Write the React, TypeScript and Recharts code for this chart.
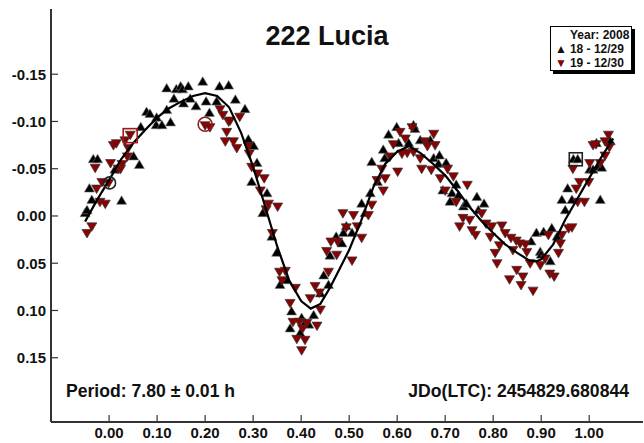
import React from 'react'
import { ScatterChart, Scatter, XAxis, YAxis } from 'recharts'

// phase / reduced magnitude
const xTicks = [0, 0.1, 0.2, 0.3, 0.4, 0.5, 0.6, 0.7, 0.8, 0.9, 1.0]
const xTickLabels = ['0.00', '0.10', '0.20', '0.30', '0.40', '0.50', '0.60', '0.70', '0.80', '0.90', '1.00']
const yTicks = [-0.15, -0.1, -0.05, 0, 0.05, 0.1, 0.15]
const yTickLabels = ['-0.15', '-0.10', '-0.05', '0.00', '0.05', '0.10', '0.15']

const night18: [number, number][] = [
  [-0.050, -0.003], [-0.046, -0.006], [-0.041, -0.029], [-0.036, -0.017], [-0.033, -0.060], [-0.024, -0.060],
  [0.012, -0.049], [0.026, -0.016], [0.051, -0.063], [0.063, -0.054], [0.066, -0.094], [0.078, -0.110],
  [0.085, -0.108], [0.099, -0.104], [0.098, -0.096], [0.110, -0.096], [0.120, -0.112], [0.128, -0.099],
  [0.120, -0.135], [0.135, -0.124], [0.140, -0.134], [0.149, -0.137], [0.153, -0.134], [0.155, -0.119],
  [0.165, -0.137], [0.169, -0.124], [0.181, -0.116], [0.195, -0.142], [0.202, -0.121], [0.209, -0.109],
  [0.224, -0.121], [0.230, -0.137], [0.249, -0.138], [0.263, -0.123], [0.283, -0.113], [0.290, -0.081],
  [0.301, -0.074], [0.308, -0.056], [0.297, -0.036], [0.329, -0.024], [0.320, -0.003], [0.339, 0.022],
  [0.349, 0.039], [0.356, 0.073], [0.370, 0.068], [0.377, 0.119], [0.380, 0.101], [0.398, 0.124],
  [0.401, 0.108], [0.408, 0.113], [0.416, 0.115], [0.426, 0.105], [0.440, 0.082], [0.447, 0.063],
  [0.457, 0.073], [0.460, 0.042], [0.473, 0.022], [0.485, 0.029], [0.488, 0.018], [0.494, 0.011],
  [0.506, 0.018], [0.526, -0.013], [0.533, -0.003], [0.544, -0.024], [0.547, -0.057], [0.559, -0.036],
  [0.571, -0.070], [0.574, -0.061], [0.582, -0.086], [0.599, -0.094], [0.603, -0.077], [0.624, -0.077],
  [0.634, -0.096], [0.637, -0.092], [0.648, -0.080], [0.669, -0.080], [0.676, -0.061], [0.686, -0.055],
  [0.688, -0.064], [0.702, -0.056], [0.695, -0.027], [0.710, -0.015], [0.714, -0.024], [0.723, -0.033],
  [0.728, -0.022], [0.738, -0.010], [0.744, -0.013], [0.766, -0.020], [0.769, -0.006], [0.781, -0.013],
  [0.879, 0.027], [0.890, 0.018], [0.898, 0.038], [0.900, 0.041], [0.905, 0.017], [0.919, 0.048],
  [0.922, 0.013], [0.933, 0.022], [0.943, -0.017], [0.950, -0.006], [0.955, -0.029], [0.964, -0.017],
  [0.967, -0.060], [0.976, -0.060], [1.001, -0.049], [1.008, -0.049], [1.015, -0.077], [1.019, -0.052],
  [1.023, -0.017], [1.026, -0.051], [1.044, -0.079],
]

const night19: [number, number][] = [
  [-0.046, 0.018], [-0.036, 0.011], [-0.029, -0.051], [-0.026, -0.029], [-0.019, -0.015], [-0.015, -0.036],
  [-0.008, -0.013], [-0.001, -0.035], [0.003, -0.056], [0.009, -0.075], [0.015, -0.077], [0.019, -0.050],
  [0.024, -0.050], [0.027, -0.055], [0.033, -0.080], [0.038, -0.063], [0.040, -0.072], [0.044, -0.086],
  [0.200, -0.096], [0.210, -0.094], [0.231, -0.113], [0.237, -0.107], [0.242, -0.079], [0.245, -0.089],
  [0.249, -0.100], [0.252, -0.101], [0.259, -0.079], [0.266, -0.072], [0.272, -0.105], [0.290, -0.074],
  [0.292, -0.066], [0.297, -0.052], [0.309, -0.045], [0.315, -0.027], [0.323, -0.040], [0.327, -0.007],
  [0.332, -0.013], [0.340, 0.018], [0.351, -0.010], [0.355, 0.059], [0.360, 0.068], [0.367, 0.058],
  [0.377, 0.092], [0.383, 0.112], [0.388, 0.076], [0.391, 0.130], [0.396, 0.112], [0.401, 0.142],
  [0.403, 0.119], [0.408, 0.131], [0.412, 0.113], [0.419, 0.087], [0.429, 0.074], [0.433, 0.116],
  [0.438, 0.081], [0.440, 0.099], [0.453, 0.037], [0.457, 0.059], [0.462, 0.027], [0.474, 0.041],
  [0.476, 0.027], [0.487, -0.003], [0.494, 0.012], [0.506, 0.047], [0.509, -0.001], [0.517, 0.011],
  [0.526, 0.023], [0.540, -0.001], [0.547, -0.012], [0.558, -0.038], [0.568, -0.050], [0.571, -0.027],
  [0.575, -0.040], [0.585, -0.063], [0.592, -0.076], [0.601, -0.047], [0.606, -0.089], [0.610, -0.066],
  [0.617, -0.082], [0.621, -0.067], [0.631, -0.094], [0.634, -0.068], [0.648, -0.061], [0.651, -0.050],
  [0.658, -0.079], [0.663, -0.074], [0.671, -0.049], [0.676, -0.087], [0.679, -0.075], [0.690, -0.040],
  [0.700, -0.027], [0.705, -0.050], [0.717, -0.042], [0.723, -0.015], [0.730, 0.011], [0.737, 0.002],
  [0.746, -0.033], [0.751, 0.004], [0.756, 0.015], [0.763, 0.020], [0.776, -0.003], [0.785, 0.008],
  [0.794, 0.022], [0.797, 0.011], [0.804, 0.039], [0.808, 0.050], [0.813, 0.031], [0.818, 0.010],
  [0.825, 0.018], [0.834, 0.067], [0.837, 0.023], [0.841, 0.036], [0.848, 0.026], [0.849, 0.057],
  [0.856, 0.029], [0.858, 0.073], [0.862, 0.064], [0.867, 0.030], [0.870, 0.038], [0.877, 0.050],
  [0.883, 0.079], [0.898, 0.052], [0.908, 0.045], [0.915, 0.020], [0.918, 0.061], [0.927, 0.064],
  [0.936, 0.039], [0.940, 0.029], [0.943, 0.020], [0.957, 0.013], [0.964, 0.012], [0.966, -0.050],
  [0.973, -0.029], [0.976, -0.015], [0.980, -0.036], [0.990, -0.015], [0.999, -0.036], [1.001, -0.056],
  [1.008, -0.075], [1.014, -0.076], [1.023, -0.056], [1.033, -0.064], [1.033, -0.079], [1.040, -0.086],
  [1.042, -0.073],
]

// Fourier fit line
const fitCurve: [number, number][] = [
  [-0.05, 0.006], [-0.025, -0.017], [0.0, -0.038], [0.025, -0.06], [0.05, -0.077], [0.075, -0.091],
  [0.1, -0.104], [0.125, -0.114], [0.15, -0.121], [0.175, -0.127], [0.2, -0.13], [0.225, -0.127],
  [0.25, -0.115], [0.275, -0.088], [0.3, -0.052], [0.325, -0.01], [0.35, 0.032], [0.375, 0.068],
  [0.4, 0.09], [0.42, 0.098], [0.44, 0.093], [0.46, 0.076], [0.48, 0.056], [0.5, 0.036],
  [0.525, 0.005], [0.55, -0.03], [0.575, -0.055], [0.6, -0.068], [0.625, -0.074], [0.65, -0.066],
  [0.675, -0.055], [0.7, -0.043], [0.725, -0.027], [0.75, -0.01], [0.775, 0.005], [0.8, 0.018],
  [0.825, 0.03], [0.85, 0.039], [0.875, 0.047], [0.89, 0.048], [0.9, 0.046], [0.925, 0.03],
  [0.95, 0.004], [0.975, -0.018], [1.0, -0.04], [1.025, -0.062], [1.05, -0.082],
]

// first-point markers
const circle18: [number, number][] = [[0.001, -0.035]]
const square18: [number, number][] = [[0.972, -0.060]]
const square19: [number, number][] = [[0.044, -0.085]]
const circle19: [number, number][] = [[0.200, -0.097]]

const RED = '#8b0000'
const FONT = '"Liberation Sans", Arial, sans-serif'

const toPts = (arr: [number, number][]) => arr.map(([x, y]) => ({ x, y }))

const UpTri = (p: any) => {
  const { cx, cy } = p
  return <polygon points={`${cx},${cy - 5} ${cx + 5},${cy + 3.5} ${cx - 5},${cy + 3.5}`} fill="#000" stroke="#777" strokeWidth={0.6} />
}
const DownTri = (p: any) => {
  const { cx, cy } = p
  return <polygon points={`${cx - 5},${cy - 3.5} ${cx + 5},${cy - 3.5} ${cx},${cy + 5}`} fill={RED} stroke="#333" strokeWidth={0.7} />
}
const NoDot = () => <g />
const ringShape = (color: string, r: number) => (p: any) => (
  <circle cx={p.cx} cy={p.cy} r={r} fill="none" stroke={color} strokeWidth={1.6} />
)
const boxShape = (color: string, s: number) => (p: any) => (
  <rect x={p.cx - s / 2} y={p.cy - s / 2} width={s} height={s} fill="none" stroke={color} strokeWidth={1.6} />
)

const LeftTick = (p: any) => {
  const { x, y, index } = p
  return (
    <g>
      <line x1={x} y1={y} x2={x + 7} y2={y} stroke="#333" strokeWidth={1.2} />
      <text x={x - 5} y={y} dy="0.36em" textAnchor="end" fontSize={15} fontWeight="bold" fill="#111" fontFamily={FONT}>
        {yTickLabels[index]}
      </text>
    </g>
  )
}
const RightTick = (p: any) => <line x1={p.x} y1={p.y} x2={p.x - 7} y2={p.y} stroke="#333" strokeWidth={1.2} />
const BottomTick = (p: any) => {
  const { x, y, index } = p
  return (
    <g>
      <line x1={x} y1={y} x2={x} y2={y - 7} stroke="#333" strokeWidth={1.2} />
      <text x={x} y={y + 11} dy="0.36em" textAnchor="middle" fontSize={15} fontWeight="bold" fill="#111" fontFamily={FONT}>
        {xTickLabels[index]}
      </text>
    </g>
  )
}
const TopTick = (p: any) => <line x1={p.x} y1={p.y} x2={p.x} y2={p.y + 7} stroke="#333" strokeWidth={1.2} />

const axisLine = { stroke: '#333', strokeWidth: 2 }

export default function App() {
  return (
    <div style={{ position: 'absolute', left: 0, top: 0, width: 644, height: 443, background: '#fff', fontFamily: FONT }}>
      <ScatterChart width={644} height={443} margin={{ top: 9, right: 1, left: 0, bottom: 0 }}>
        <XAxis xAxisId={0} type="number" dataKey="x" domain={[-0.121, 1.112]} ticks={xTicks} interval={0}
          allowDataOverflow tickSize={0} tickMargin={0} tickLine={false} axisLine={axisLine} tick={<BottomTick />} height={21} />
        <XAxis xAxisId="top" orientation="top" type="number" dataKey="x" domain={[-0.121, 1.112]} ticks={xTicks} interval={0}
          allowDataOverflow tickSize={0} tickMargin={0} tickLine={false} axisLine={axisLine} tick={<TopTick />} height={0} />
        <YAxis yAxisId={0} type="number" dataKey="y" domain={[-0.219, 0.218]} reversed ticks={yTicks} interval={0}
          allowDataOverflow tickSize={0} tickMargin={0} tickLine={false} axisLine={axisLine} tick={<LeftTick />} width={51} />
        <YAxis yAxisId="right" orientation="right" type="number" dataKey="y" domain={[-0.219, 0.218]} reversed ticks={yTicks} interval={0}
          allowDataOverflow tickSize={0} tickMargin={0} tickLine={false} axisLine={axisLine} tick={<RightTick />} width={0} />
        <Scatter name="18 - 12/29" data={toPts(night18)} shape={<UpTri />} isAnimationActive={false} />
        <Scatter name="19 - 12/30" data={toPts(night19)} shape={<DownTri />} isAnimationActive={false} />
        <Scatter name="fit" data={toPts(fitCurve)} line={{ stroke: '#000', strokeWidth: 2.2 }} lineType="joint"
          shape={<NoDot />} isAnimationActive={false} />
        <Scatter data={toPts(circle18)} shape={ringShape('#222', 6)} isAnimationActive={false} />
        <Scatter data={toPts(square18)} shape={boxShape('#222', 13)} isAnimationActive={false} />
        <Scatter data={toPts(square19)} shape={boxShape('#9b1b1b', 14)} isAnimationActive={false} />
        <Scatter data={toPts(circle19)} shape={ringShape('#9b1b1b', 7)} isAnimationActive={false} />
      </ScatterChart>

      <div style={{ position: 'absolute', left: 0, width: 654, top: 21, textAlign: 'center', fontSize: 27, fontWeight: 'bold', color: '#111' }}>
        222 Lucia
      </div>
      <div style={{ position: 'absolute', left: 66, top: 381, fontSize: 17.6, fontWeight: 'bold', color: '#111', whiteSpace: 'nowrap' }}>
        Period: 7.80 ± 0.01 h
      </div>
      <div style={{ position: 'absolute', right: 15, top: 381, fontSize: 17.6, fontWeight: 'bold', color: '#111', whiteSpace: 'nowrap' }}>
        JDo(LTC): 2454829.680844
      </div>

      <div style={{
        position: 'absolute', left: 550, top: 26, width: 80, height: 43, background: '#fff',
        border: '1px solid #000', boxShadow: '3px 3px 0 #000', fontSize: 12, fontWeight: 'bold', color: '#111', lineHeight: '14px',
      }}>
        <div style={{ position: 'absolute', left: 19, top: 1, whiteSpace: 'nowrap' }}>Year: 2008</div>
        <div style={{ position: 'absolute', left: 4, top: 15, whiteSpace: 'nowrap' }}>
          <span style={{ fontSize: 12, marginRight: 3 }}>▲</span>18 - 12/29
        </div>
        <div style={{ position: 'absolute', left: 4, top: 29, whiteSpace: 'nowrap' }}>
          <span style={{ fontSize: 12, marginRight: 3, color: RED }}>▼</span>19 - 12/30
        </div>
      </div>
    </div>
  )
}
